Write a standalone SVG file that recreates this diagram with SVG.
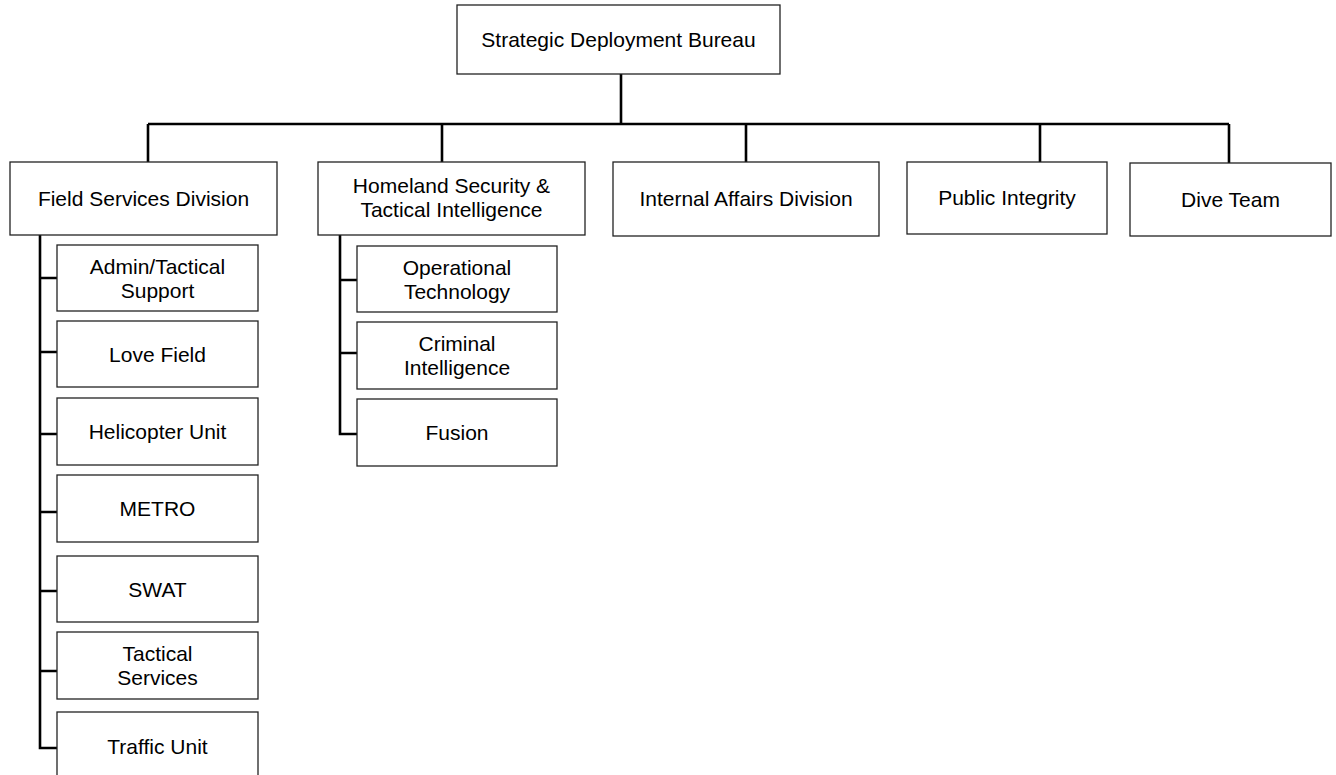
<svg xmlns="http://www.w3.org/2000/svg" width="1336" height="775" viewBox="0 0 1336 775">
<style>
.box{fill:#ffffff;stroke:#222222;stroke-width:1.3}
.t{font-family:"Liberation Sans",Arial,sans-serif;font-size:21px;fill:#000000;text-anchor:middle}
.c{fill:none;stroke:#000000;stroke-width:2.6}
</style>
<rect width="1336" height="775" fill="#ffffff"/>
<g id="connectors">
<path class="c" d="M621,74 V124 M148,124 H1229 M148,124 V162 M442,124 V162 M746,124 V162 M1040,124 V162 M1229,124 V163"/>
<path class="c" d="M40,235 V748 H57 M40,278 H57 M40,352 H57 M40,434 H57 M40,512 H57 M40,591 H57 M40,671 H57"/>
<path class="c" d="M340,235 V434 H357 M340,280 H357 M340,353 H357"/>
</g>
<g id="n-bureau"><rect class="box" x="457" y="5" width="323" height="69"/><text class="t" x="618.5" y="47">Strategic Deployment Bureau</text></g>
<g id="n-fsd"><rect class="box" x="10" y="162" width="267" height="73"/><text class="t" x="143.5" y="206">Field Services Division</text></g>
<g id="n-hs"><rect class="box" x="318" y="162" width="267" height="73"/><text class="t" x="451.5" y="193">Homeland Security &amp;</text><text class="t" x="451.5" y="217">Tactical Intelligence</text></g>
<g id="n-ia"><rect class="box" x="613" y="162" width="266" height="74"/><text class="t" x="746" y="206">Internal Affairs Division</text></g>
<g id="n-pi"><rect class="box" x="907" y="162" width="200" height="72"/><text class="t" x="1007" y="205">Public Integrity</text></g>
<g id="n-dive"><rect class="box" x="1130" y="163" width="201" height="73"/><text class="t" x="1230.5" y="207">Dive Team</text></g>
<g id="n-admin"><rect class="box" x="57" y="245" width="201" height="66"/><text class="t" x="157.5" y="274">Admin/Tactical</text><text class="t" x="157.5" y="298">Support</text></g>
<g id="n-love"><rect class="box" x="57" y="321" width="201" height="66"/><text class="t" x="157.5" y="362">Love Field</text></g>
<g id="n-heli"><rect class="box" x="57" y="398" width="201" height="67"/><text class="t" x="157.5" y="439">Helicopter Unit</text></g>
<g id="n-metro"><rect class="box" x="57" y="475" width="201" height="67"/><text class="t" x="157.5" y="516">METRO</text></g>
<g id="n-swat"><rect class="box" x="57" y="556" width="201" height="66"/><text class="t" x="157.5" y="597">SWAT</text></g>
<g id="n-tact"><rect class="box" x="57" y="632" width="201" height="67"/><text class="t" x="157.5" y="661">Tactical</text><text class="t" x="157.5" y="685">Services</text></g>
<g id="n-traffic"><rect class="box" x="57" y="712" width="201" height="67"/><text class="t" x="157.5" y="754">Traffic Unit</text></g>
<g id="n-optech"><rect class="box" x="357" y="246" width="200" height="66"/><text class="t" x="457" y="275">Operational</text><text class="t" x="457" y="299">Technology</text></g>
<g id="n-crim"><rect class="box" x="357" y="322" width="200" height="67"/><text class="t" x="457" y="351">Criminal</text><text class="t" x="457" y="375">Intelligence</text></g>
<g id="n-fusion"><rect class="box" x="357" y="399" width="200" height="67"/><text class="t" x="457" y="440">Fusion</text></g>
</svg>
